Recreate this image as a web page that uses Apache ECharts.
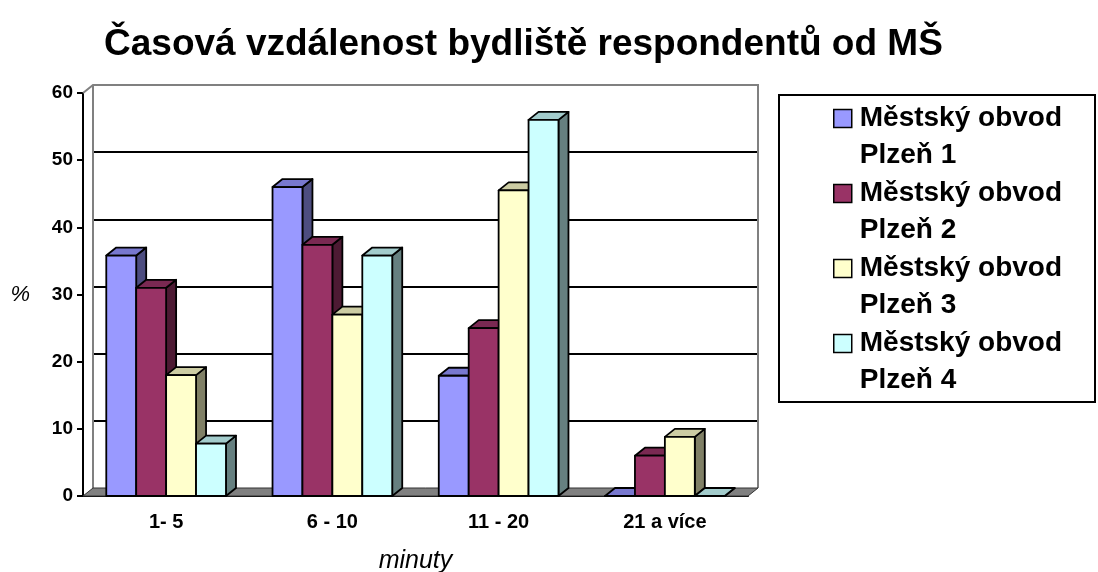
<!DOCTYPE html>
<html>
<head>
<meta charset="utf-8">
<script src="https://cdn.jsdelivr.net/npm/echarts@6/dist/echarts.min.js"></script>
<style>
  html, body { margin: 0; padding: 0; background: #fff; }
  #chart { width: 1098px; height: 572px; }
</style>
</head>
<body>
<div id="chart"></div>
<script>
  var categories = ['1- 5', '6 - 10', '11 - 20', '21 a více']
  var seriesNames = [
    'Městský obvod\nPlzeň 1',
    'Městský obvod\nPlzeň 2',
    'Městský obvod\nPlzeň 3',
    'Městský obvod\nPlzeň 4'
  ]
  var plzen1 = [35.8, 46, 17.9, 0]
  var plzen2 = [31, 37.4, 25, 6]
  var plzen3 = [18, 27, 45.5, 8.8]
  var plzen4 = [7.8, 35.8, 56, 0]

  var FONT = '"Liberation Sans", Arial, sans-serif'
  // front / top / side face colours of the old 3D excel bars
  var frontColors = ['#9999ff', '#993366', '#ffffcc', '#ccffff']
  var topColors = ['#7878cf', '#7a2952', '#cccca3', '#a3cccc']
  var sideColors = ['#4d4d80', '#4d1a33', '#808066', '#668080']
  var DX = 10, DY = -8, LW = 1.8

  var chart = echarts.init(document.getElementById('chart'))

  function barRenderer(si) {
    return function (params, api) {
      var cat = api.value(0)
      var base = api.coord([cat, 0])
      var top = api.coord([cat, api.value(1)])
      var band = api.size([1, 0])[0]
      var w = band * 0.18
      var x0 = base[0] - 2 * w + si * w
      var x1 = x0 + w
      var yb = base[1], yt = top[1]
      var line = { stroke: '#000', lineWidth: LW, lineJoin: 'round' }
      return {
        type: 'group',
        children: [
          {
            type: 'polygon',
            shape: { points: [[x1, yt], [x1 + DX, yt + DY], [x1 + DX, yb + DY], [x1, yb]] },
            style: Object.assign({ fill: sideColors[si] }, line)
          },
          {
            type: 'polygon',
            shape: { points: [[x0, yt], [x1, yt], [x1 + DX, yt + DY], [x0 + DX, yt + DY]] },
            style: Object.assign({ fill: topColors[si] }, line)
          },
          {
            type: 'rect',
            shape: { x: x0, y: yt, width: w, height: yb - yt },
            style: Object.assign({ fill: frontColors[si] }, line)
          }
        ]
      }
    }
  }

  function frameRenderer(params, api) {
    var r = params.coordSys
    var xl = r.x, xr = r.x + r.width, yt = r.y, yb = r.y + r.height
    var gray = { stroke: '#808080', lineWidth: 2 }
    return {
      type: 'group',
      children: [
        { type: 'polyline', shape: { points: [[xl, yt], [xl + DX, yt + DY], [xr + DX, yt + DY], [xr + DX, yb + DY]] }, style: Object.assign({ fill: null }, gray) },
        { type: 'line', shape: { x1: xl + DX, y1: yt + DY, x2: xl + DX, y2: yb + DY }, style: gray },
        {
          type: 'polygon',
          shape: { points: [[xl, yb], [xr, yb], [xr + DX, yb + DY], [xl + DX, yb + DY]] },
          style: { fill: '#808080', stroke: '#333', lineWidth: 1 }
        }
      ]
    }
  }

  var allValues = [plzen1, plzen2, plzen3, plzen4]
  var series = [{
    type: 'custom',
    name: 'frame',
    xAxisIndex: 0,
    yAxisIndex: 0,
    renderItem: frameRenderer,
    data: [[0, 0]],
    silent: true,
    z: 1
  }]
  allValues.forEach(function (vals, si) {
    series.push({
      type: 'custom',
      name: seriesNames[si],
      xAxisIndex: 0,
      yAxisIndex: 0,
      renderItem: barRenderer(si),
      itemStyle: { color: frontColors[si] },
      data: vals.map(function (v, i) { return [i, v] }),
      z: 3
    })
  })

  chart.setOption({
    animation: false,
    backgroundColor: '#fff',
    title: {
      text: 'Časová vzdálenost bydliště respondentů od MŠ',
      left: 99,
      top: 21,
      textStyle: { fontFamily: FONT, fontSize: 37, fontWeight: 'bold', color: '#000' }
    },
    graphic: [{
      type: 'rect',
      shape: { x: 779, y: 95, width: 316, height: 307 },
      style: { fill: null, stroke: '#000', lineWidth: 2 },
      z: 0
    }],
    legend: {
      data: seriesNames,
      orient: 'vertical',
      left: 833,
      top: 63,
      padding: 0,
      itemWidth: 18,
      itemHeight: 18,
      itemGap: -36,
      icon: 'rect',
      itemStyle: { borderColor: '#000', borderWidth: 1.5 },
      // blank first line puts the square beside the first text line
      formatter: function (name) { return '\n' + name },
      textStyle: {
        fontFamily: FONT, fontSize: 28, fontWeight: 'bold', color: '#000',
        lineHeight: 37, padding: [0, 0, 0, 3]
      }
    },
    grid: [
      { left: 83, right: 350, top: 93, bottom: 76, outerBoundsMode: 'none' },
      { left: 83 + DX, right: 350 - DX, top: 93 + DY, bottom: 76 - DY, outerBoundsMode: 'none' }
    ],
    xAxis: [{
      gridIndex: 0,
      type: 'category',
      data: categories,
      name: 'minuty',
      nameLocation: 'middle',
      nameGap: 53,
      nameTextStyle: { fontFamily: FONT, fontSize: 25, fontStyle: 'italic', color: '#000' },
      axisLine: { lineStyle: { color: '#000', width: 2 } },
      axisTick: { length: 7, lineStyle: { color: '#000', width: 2 } },
      axisLabel: { margin: 16, fontFamily: FONT, fontSize: 20, fontWeight: 'bold', color: '#000' }
    }, {
      gridIndex: 1,
      type: 'category',
      data: categories,
      show: false
    }],
    yAxis: [{
      gridIndex: 0,
      type: 'value',
      min: 0,
      max: 60,
      interval: 10,
      name: '%',
      nameLocation: 'middle',
      nameRotate: 0,
      nameGap: 53,
      nameTextStyle: { fontFamily: FONT, fontSize: 22, fontStyle: 'italic', color: '#000' },
      axisLine: { show: true, lineStyle: { color: '#000', width: 2 } },
      axisTick: { show: true, length: 6, lineStyle: { color: '#000', width: 2 } },
      axisLabel: { margin: 10, fontFamily: FONT, fontSize: 19, fontWeight: 'bold', color: '#000' },
      splitLine: { show: false }
    }, {
      gridIndex: 1,
      type: 'value',
      min: 0,
      max: 60,
      interval: 10,
      axisLine: { show: false },
      axisTick: { show: false },
      axisLabel: { show: false },
      splitLine: { show: true, showMinLine: false, showMaxLine: false, lineStyle: { color: '#000', width: 2 } }
    }],
    series: series
  })
</script>
</body>
</html>
